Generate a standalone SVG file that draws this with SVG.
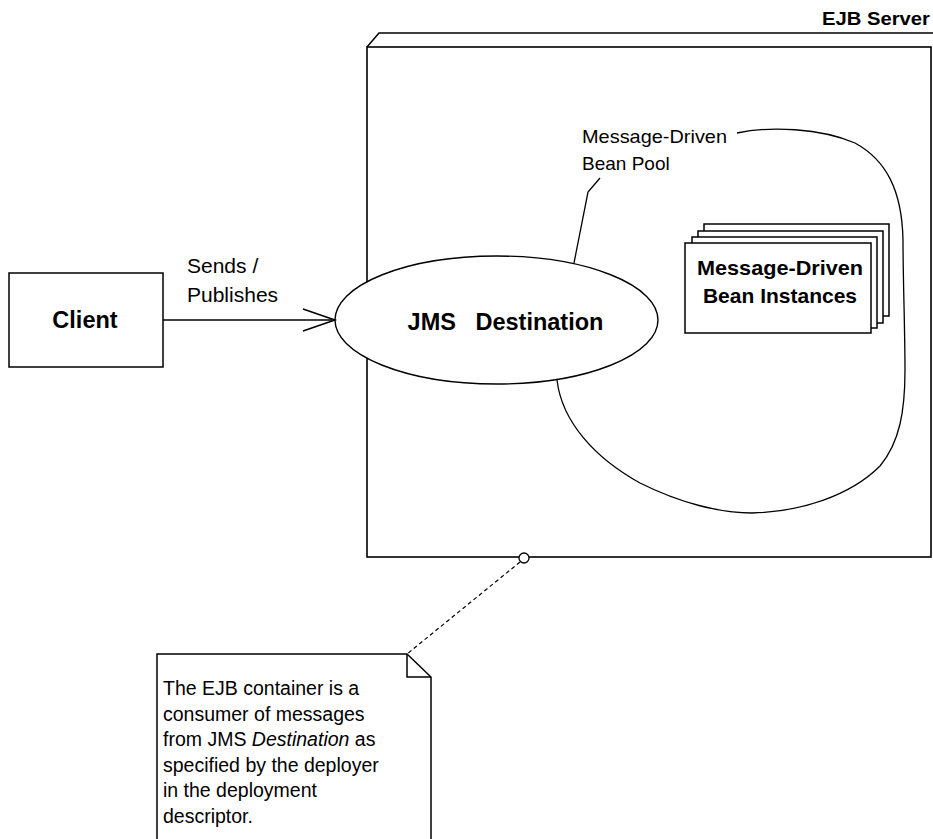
<svg xmlns="http://www.w3.org/2000/svg" width="933" height="839" viewBox="0 0 933 839">
<style>
.ln{fill:none;stroke:#000;stroke-width:1.5}
.thin{fill:none;stroke:#000;stroke-width:1.3}
.box{fill:#fff;stroke:#000;stroke-width:1.5}
.t{font-family:"Liberation Sans",Arial,sans-serif;fill:#000}
.b{font-weight:bold}
</style>
<rect width="933" height="839" fill="#fff"/>
<g id="ejb-server">
<path class="ln" d="M367,47 L379,33 L933,33"/>
<rect class="box" x="367" y="47" width="564" height="510" style="stroke-width:1.6"/>
<text class="t b" x="930" y="25" font-size="18" text-anchor="end" textLength="108" lengthAdjust="spacingAndGlyphs">EJB Server</text>
</g>
<g id="bean-pool">
<path class="thin" d="M557,380 C562,422 595,458 640,483 C680,503 720,513 752,513 C800,512 850,496 880,466 C900,442 905,410 905,370 C905,330 903,280 903,240 C902,190 886,160 855,143 C820,128 770,126 737,133"/>
<path class="thin" d="M574,263 L588,192 L600,178"/>
<text class="t" x="582" y="143" font-size="19" textLength="145" lengthAdjust="spacingAndGlyphs">Message-Driven</text>
<text class="t" x="582" y="170" font-size="19">Bean Pool</text>
</g>
<g id="bean-instances">
<rect class="box" x="704" y="224" width="185" height="92"/>
<rect class="box" x="698" y="231" width="185" height="92"/>
<rect class="box" x="692" y="237" width="185" height="91"/>
<rect class="box" x="685" y="243" width="186" height="90"/>
<text class="t b" x="780" y="275" font-size="21" text-anchor="middle" textLength="166" lengthAdjust="spacingAndGlyphs">Message-Driven</text>
<text class="t b" x="780" y="303" font-size="21" text-anchor="middle">Bean Instances</text>
</g>
<g id="jms-destination">
<ellipse cx="496.5" cy="320" rx="161.5" ry="64" class="box" style="stroke-width:1.4"/>
<text class="t b" x="505.5" y="330" font-size="23.5" text-anchor="middle" xml:space="preserve">JMS   Destination</text>
</g>
<g id="client">
<rect class="box" x="9" y="273" width="154" height="94"/>
<text class="t b" x="85" y="328" font-size="23.5" text-anchor="middle">Client</text>
</g>
<g id="note">
<path class="box" d="M157,845 L157,654 L407,654 L431,677 L431,845"/>
<path class="ln" d="M407,654 L407,677 L431,677"/>
<text class="t" font-size="19.5">
<tspan x="163" y="695">The EJB container is a</tspan>
<tspan x="163" y="720.6">consumer of messages</tspan>
<tspan x="163" y="746.2">from JMS  <tspan font-style="italic">Destination</tspan> as</tspan>
<tspan x="163" y="771.8">specified by the deployer</tspan>
<tspan x="163" y="797.4">in the deployment</tspan>
<tspan x="163" y="823">descriptor.</tspan>
</text>
</g>
<g id="connectors">
<path class="ln" d="M163,320 L335,320"/>
<path class="ln" d="M303,309 L335,320 L303,331"/>
<text class="t" x="187" y="273" font-size="21">Sends /</text>
<text class="t" x="187" y="302" font-size="21">Publishes</text>
<path fill="none" stroke="#000" stroke-width="1.2" stroke-dasharray="4,3" d="M520,562 L407,654"/>
<circle cx="524" cy="558" r="5" fill="#fff" stroke="#000" stroke-width="1.3"/>
</g>
</svg>
